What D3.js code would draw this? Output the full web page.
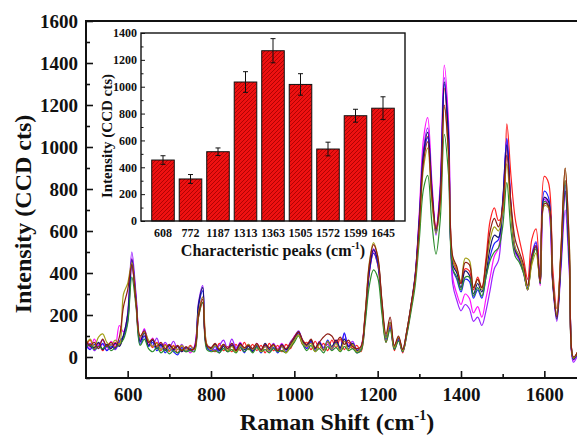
<!DOCTYPE html>
<html>
<head>
<meta charset="utf-8">
<script src="https://cdn.jsdelivr.net/npm/d3@7"></script>
<style>
  html, body { margin: 0; padding: 0; background: #fff; }
  svg { display: block; }
  text { font-family: "Liberation Serif", "Times New Roman", Times, "DejaVu Serif", serif; font-weight: bold; fill: #111; }
</style>
</head>
<body>
<svg id="chart" width="577" height="436"></svg>
<script>
// Raman shift sampling grid (cm-1), shared by every spectrum
const ramanShift = d3.range(500, 1681, 10);

// Intensities (CCD cts), one value per grid point, rows of 10 points
const spectrumRed = [
  50, 80, 40, 65, 30, 60, 40, 70, 55, 100,
  180, 440, 260, 90, 100, 75, 45, 70, 30, 60,
  25, 55, 20, 50, 25, 55, 35, 190, 260, 60,
  40, 25, 65, 30, 50, 25, 60, 30, 70, 35,
  60, 30, 55, 20, 65, 30, 55, 25, 60, 40,
  80, 110, 60, 70, 35, 75, 40, 65, 30, 80,
  45, 85, 35, 70, 40, 55, 25, 180, 400, 495,
  440, 240, 70, 150, 30, 95, 20, 110, 230, 370,
  640, 960, 1050, 780, 620, 780, 1280, 1000, 460, 410,
  350, 420, 410, 320, 380, 330, 470, 650, 710, 650,
  680, 1110, 860, 660, 560, 470, 370, 560, 610, 350,
  860, 830, 430, 230, 500, 840, 470, -5, 25
];
const spectrumMagenta = [
  70, 40, 85, 50, 60, 30, 75, 55, 150, 120,
  200, 470, 290, 80, 135, 60, 90, 40, 65, 35,
  55, 30, 50, 25, 45, 20, 50, 210, 285, 45,
  35, 60, 30, 55, 25, 60, 35, 70, 40, 55,
  30, 65, 35, 50, 25, 60, 40, 65, 35, 50,
  100, 115, 70, 45, 75, 40, 65, 30, 70, 45,
  80, 35, 75, 50, 60, 25, 50, 200, 410, 505,
  460, 255, 85, 145, 40, 80, 25, 115, 235, 385,
  690, 1040, 1140, 840, 610, 820, 1390, 1120, 380, 300,
  250, 300, 280, 210, 240, 190, 280, 380, 480, 520,
  720, 1020, 700, 500, 470, 410, 320, 480, 530, 340,
  760, 720, 370, 200, 450, 790, 450, -15, 15
];
const spectrumViolet = [
  40, 65, 30, 55, 80, 45, 60, 35, 70, 95,
  210, 500, 300, 70, 130, 75, 55, 90, 40, 70,
  45, 75, 35, 60, 30, 50, 40, 260, 340, 55,
  45, 35, 55, 80, 40, 85, 45, 60, 25, 55,
  40, 60, 30, 55, 40, 65, 30, 50, 25, 70,
  95, 125, 80, 55, 70, 30, 75, 45, 60, 35,
  70, 40, 110, 55, 75, 35, 40, 195, 420, 515,
  465, 260, 95, 150, 50, 85, 30, 120, 240, 385,
  670, 990, 1090, 810, 580, 790, 1330, 1080, 350, 270,
  220, 250, 230, 170, 190, 150, 220, 320, 420, 460,
  720, 1040, 710, 500, 460, 400, 320, 490, 550, 350,
  750, 710, 350, 170, 420, 700, 400, -25, 10
];
const spectrumBlue = [
  55, 35, 60, 40, 65, 30, 50, 40, 75, 100,
  170, 445, 260, 60, 100, 50, 70, 30, 55, 20,
  40, 25, 10, 45, 25, 40, 35, 240, 315, 45,
  30, 50, 20, 55, 30, 65, 35, 50, 20, 60,
  30, 50, 20, 55, 30, 45, 20, 50, 25, 55,
  85, 115, 70, 40, 75, 30, 65, 35, 80, 40,
  70, 35, 115, 40, 65, 20, 40, 185, 405, 495,
  445, 245, 85, 140, 40, 80, 25, 115, 235, 375,
  640, 950, 1045, 780, 590, 760, 1300, 1040, 420, 370,
  310, 370, 360, 280, 320, 280, 380, 480, 540, 560,
  740, 1040, 720, 520, 480, 420, 330, 480, 545, 360,
  790, 760, 380, 190, 470, 820, 470, -10, 20
];
const spectrumNavy = [
  75, 50, 45, 70, 35, 60, 40, 65, 50, 105,
  200, 465, 275, 75, 115, 55, 80, 40, 60, 30,
  55, 35, 50, 25, 45, 30, 45, 250, 330, 50,
  40, 60, 30, 50, 25, 55, 30, 65, 35, 50,
  25, 55, 30, 65, 35, 55, 30, 60, 35, 55,
  90, 120, 75, 55, 80, 40, 70, 35, 75, 50,
  80, 45, 85, 50, 65, 30, 45, 195, 415, 510,
  460, 255, 95, 165, 50, 90, 35, 125, 245, 390,
  660, 970, 1070, 800, 600, 780, 1310, 1050, 440, 400,
  330, 410, 390, 300, 350, 310, 400, 520, 580, 570,
  730, 1010, 700, 510, 470, 410, 320, 460, 525, 350,
  760, 740, 360, 180, 460, 790, 450, -10, 20
];
const spectrumGreen = [
  45, 60, 35, 50, 40, 55, 30, 45, 60, 85,
  160, 380, 240, 55, 85, 40, 25, 45, 20, 35,
  15, 30, 20, 35, 25, 30, 25, 190, 260, 35,
  25, 30, 20, 40, 25, 35, 20, 45, 25, 40,
  20, 45, 25, 35, 20, 40, 25, 30, 20, 45,
  70, 100, 60, 30, 55, 25, 40, 20, 50, 30,
  45, 25, 50, 30, 40, 20, 30, 160, 340, 415,
  380, 210, 70, 130, 35, 75, 25, 105, 215, 340,
  560, 800, 865, 640, 490, 650, 1060, 870, 420, 380,
  320, 380, 380, 290, 330, 290, 380, 460, 500, 520,
  620, 830, 600, 480, 450, 400, 320, 460, 515, 350,
  740, 720, 360, 200, 490, 840, 480, -5, 20
];
const spectrumOlive = [
  60, 85, 50, 95, 110, 70, 55, 80, 60, 300,
  350, 450, 265, 95, 120, 80, 50, 65, 35, 55,
  30, 50, 35, 55, 30, 50, 35, 210, 285, 60,
  35, 55, 40, 60, 30, 50, 25, 55, 40, 60,
  35, 60, 25, 50, 30, 55, 35, 50, 20, 50,
  80, 105, 65, 50, 65, 25, 60, 30, 75, 40,
  65, 30, 75, 35, 60, 25, 45, 210, 450, 545,
  480, 270, 90, 165, 45, 95, 30, 125, 240, 370,
  610, 900, 995, 740, 590, 720, 1190, 960, 470, 420,
  360, 470, 460, 330, 370, 320, 430, 560, 620, 600,
  700, 920, 680, 520, 480, 420, 320, 440, 495, 360,
  720, 710, 380, 200, 520, 900, 540, -5, 25
];
const spectrumBrown = [
  80, 55, 70, 40, 85, 50, 70, 45, 95, 240,
  320, 440, 260, 100, 125, 70, 85, 50, 70, 40,
  60, 40, 55, 30, 50, 35, 40, 200, 275, 55,
  45, 65, 35, 60, 40, 65, 30, 60, 45, 55,
  40, 65, 35, 60, 45, 60, 30, 55, 40, 65,
  95, 120, 80, 60, 85, 45, 70, 95, 110, 100,
  70, 95, 60, 80, 50, 40, 50, 205, 440, 535,
  480, 275, 110, 190, 55, 100, 35, 125, 245, 380,
  630, 930, 1025, 770, 610, 740, 1200, 980, 480, 430,
  350, 450, 440, 330, 370, 330, 450, 600, 660, 620,
  720, 960, 730, 560, 500, 440, 340, 480, 530, 360,
  730, 720, 370, 190, 510, 900, 530, 0, 25
];

const spectra = [
  { values: spectrumRed,     color: "#ff2222" },
  { values: spectrumMagenta, color: "#ff10ff" },
  { values: spectrumViolet,  color: "#9a22ff" },
  { values: spectrumBlue,    color: "#2020ff" },
  { values: spectrumNavy,    color: "#141470" },
  { values: spectrumGreen,   color: "#2b8c2b" },
  { values: spectrumOlive,   color: "#a3a018" },
  { values: spectrumBrown,   color: "#8e1c14" }
];

// Inset: mean intensity of the characteristic peaks with error bars
const peakLabels = ["608", "772", "1187", "1313", "1363", "1505", "1572", "1599", "1645"];
const peakMeans  = [454, 313, 516, 1035, 1268, 1017, 536, 784, 840];
const peakErrors = [32, 33, 28, 77, 90, 80, 51, 48, 85];

// Tick values
const mainXTicks  = [600, 800, 1000, 1200, 1400, 1600];
const mainXMinor  = [700, 900, 1100, 1300, 1500, 1700];
const mainYTicks  = [0, 200, 400, 600, 800, 1000, 1200, 1400, 1600];
const mainYMinor  = [-100, 100, 300, 500, 700, 900, 1100, 1300, 1500];
const insetYTicks = [0, 200, 400, 600, 800, 1000, 1200, 1400];
const insetYMinor = [100, 300, 500, 700, 900, 1100, 1300];

const serif = '"Liberation Serif", "Times New Roman", Times, "DejaVu Serif", serif';
const svg = d3.select("#chart");

// ---------- main panel ----------
const plot = { left: 86, right: 586, top: 21, bottom: 378 };
const x = d3.scaleLinear().domain([500, 1700]).range([plot.left, plot.right]);
const y = d3.scaleLinear().domain([-100, 1600]).range([plot.bottom, plot.top]);

svg.append("clipPath").attr("id", "plot-clip")
  .append("rect")
  .attr("x", plot.left).attr("y", plot.top)
  .attr("width", plot.right - plot.left).attr("height", plot.bottom - plot.top);

const line = d3.line()
  .x((d, i) => x(ramanShift[i]))
  .y(d => y(d))
  .curve(d3.curveCatmullRom.alpha(0.5));

const linesG = svg.append("g").attr("clip-path", "url(#plot-clip)");
linesG.selectAll("path.spectrum")
  .data(spectra)
  .join("path")
  .attr("class", "spectrum")
  .attr("fill", "none")
  .attr("stroke", d => d.color)
  .attr("stroke-width", 1.2)
  .attr("stroke-linejoin", "round")
  .attr("d", d => line(d.values));

// axes (ticks point inward)
function styleAxis(g) {
  g.attr("font-family", serif);
  g.select(".domain").remove();
  g.selectAll(".tick line").attr("stroke", "#111").attr("stroke-width", 1.6);
  g.selectAll(".tick text").attr("fill", "#111").attr("font-weight", "bold");
}

svg.append("g")
  .attr("transform", `translate(0,${plot.bottom})`)
  .call(d3.axisBottom(x).tickValues(mainXTicks).tickSize(-7).tickPadding(10).tickFormat(d3.format("d")))
  .call(styleAxis)
  .call(g => g.selectAll("text").attr("font-size", 19));

svg.append("g")
  .attr("transform", `translate(0,${plot.bottom})`)
  .call(d3.axisBottom(x).tickValues(mainXMinor).tickSize(-4).tickFormat(""))
  .call(styleAxis);

svg.append("g")
  .attr("transform", `translate(${plot.left},0)`)
  .call(d3.axisLeft(y).tickValues(mainYTicks).tickSize(-7).tickPadding(8).tickFormat(d3.format("d")))
  .call(styleAxis)
  .call(g => g.selectAll("text").attr("font-size", 19));

svg.append("g")
  .attr("transform", `translate(${plot.left},0)`)
  .call(d3.axisLeft(y).tickValues(mainYMinor).tickSize(-4).tickFormat(""))
  .call(styleAxis);

// frame
svg.append("rect")
  .attr("x", plot.left).attr("y", plot.top)
  .attr("width", plot.right - plot.left).attr("height", plot.bottom - plot.top)
  .attr("fill", "none").attr("stroke", "#111").attr("stroke-width", 2);

// axis titles
const xTitle = svg.append("text")
  .attr("x", 337).attr("y", 430)
  .attr("text-anchor", "middle")
  .attr("font-size", 24);
xTitle.append("tspan").text("Raman Shift (cm");
xTitle.append("tspan").attr("font-size", 14).attr("dy", -10).text("-1");
xTitle.append("tspan").attr("dy", 10).text(")");

svg.append("text")
  .attr("transform", "translate(31,214) rotate(-90)")
  .attr("text-anchor", "middle")
  .attr("font-size", 24)
  .text("Intensity (CCD cts)");

// ---------- inset bar chart ----------
const inset = { left: 141, right: 405, top: 33, bottom: 221 };
const ix = d3.scaleBand().domain(peakLabels).range([inset.left, inset.right])
  .paddingInner(0.18).paddingOuter(0.39);
const iy = d3.scaleLinear().domain([0, 1400]).range([inset.bottom, inset.top]);

const insetG = svg.append("g");

insetG.append("rect")
  .attr("x", inset.left).attr("y", inset.top)
  .attr("width", inset.right - inset.left).attr("height", inset.bottom - inset.top)
  .attr("fill", "#fff");

const defs = svg.append("defs");
const hatch = defs.append("pattern")
  .attr("id", "bar-hatch")
  .attr("patternUnits", "userSpaceOnUse")
  .attr("width", 4).attr("height", 4);
hatch.append("rect").attr("width", 4).attr("height", 4).attr("fill", "#ee1111");
hatch.append("path")
  .attr("d", "M-1,1 L1,-1 M0,4 L4,0 M3,5 L5,3")
  .attr("stroke", "#a00000").attr("stroke-width", 0.8);

insetG.selectAll("rect.bar")
  .data(peakMeans)
  .join("rect")
  .attr("class", "bar")
  .attr("x", (d, i) => ix(peakLabels[i]))
  .attr("y", d => iy(d))
  .attr("width", ix.bandwidth())
  .attr("height", d => iy(0) - iy(d))
  .attr("fill", "url(#bar-hatch)")
  .attr("stroke", "#111")
  .attr("stroke-width", 1);

const errG = insetG.selectAll("g.err")
  .data(peakMeans)
  .join("g")
  .attr("class", "err")
  .attr("transform", (d, i) => `translate(${ix(peakLabels[i]) + ix.bandwidth() / 2},0)`);
errG.append("line")
  .attr("y1", (d, i) => iy(d + peakErrors[i]))
  .attr("y2", (d, i) => iy(d - peakErrors[i]))
  .attr("stroke", "#111").attr("stroke-width", 1);
errG.append("line")
  .attr("x1", -2.5).attr("x2", 2.5)
  .attr("y1", (d, i) => iy(d + peakErrors[i]))
  .attr("y2", (d, i) => iy(d + peakErrors[i]))
  .attr("stroke", "#111").attr("stroke-width", 1);
errG.append("line")
  .attr("x1", -2.5).attr("x2", 2.5)
  .attr("y1", (d, i) => iy(d - peakErrors[i]))
  .attr("y2", (d, i) => iy(d - peakErrors[i]))
  .attr("stroke", "#111").attr("stroke-width", 1);

insetG.append("g")
  .attr("transform", `translate(${inset.left},0)`)
  .call(d3.axisLeft(iy).tickValues(insetYTicks).tickSize(-4).tickPadding(4).tickFormat(d3.format("d")))
  .call(styleAxis)
  .call(g => g.selectAll(".tick line").attr("stroke-width", 1))
  .call(g => g.selectAll("text").attr("font-size", 12));

insetG.append("g")
  .attr("transform", `translate(${inset.left},0)`)
  .call(d3.axisLeft(iy).tickValues(insetYMinor).tickSize(-2.5).tickFormat(""))
  .call(styleAxis)
  .call(g => g.selectAll(".tick line").attr("stroke-width", 1));

insetG.append("g")
  .attr("transform", `translate(0,${inset.bottom})`)
  .call(d3.axisBottom(ix).tickSize(0).tickPadding(7))
  .call(styleAxis)
  .call(g => g.selectAll("text").attr("font-size", 12));

insetG.append("rect")
  .attr("x", inset.left).attr("y", inset.top)
  .attr("width", inset.right - inset.left).attr("height", inset.bottom - inset.top)
  .attr("fill", "none").attr("stroke", "#111").attr("stroke-width", 1.4);

const ixTitle = insetG.append("text")
  .attr("x", 273).attr("y", 256)
  .attr("text-anchor", "middle")
  .attr("font-size", 16);
ixTitle.append("tspan").text("Characteristic peaks (cm");
ixTitle.append("tspan").attr("font-size", 10).attr("dy", -7).text("-1");
ixTitle.append("tspan").attr("dy", 7).text(")");

insetG.append("text")
  .attr("transform", "translate(112,136) rotate(-90)")
  .attr("text-anchor", "middle")
  .attr("font-size", 15)
  .text("Intensity (CCD cts)");
</script>
</body>
</html>
